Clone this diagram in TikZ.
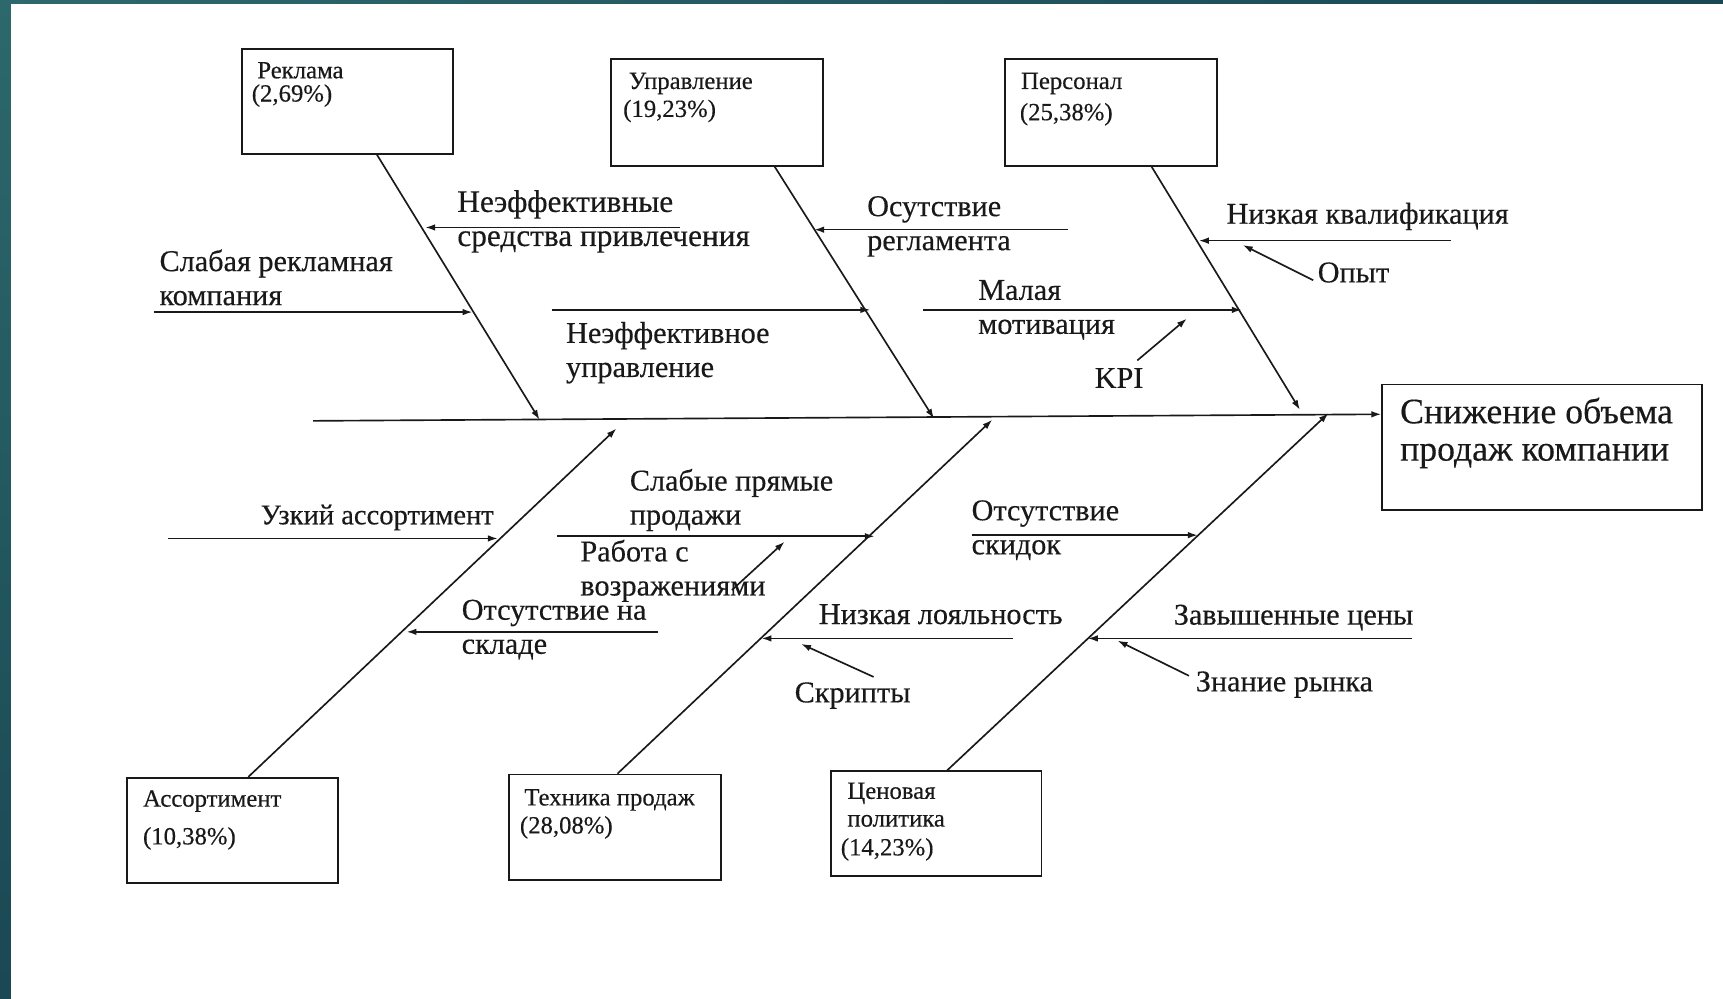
\documentclass[tikz,border=0pt]{standalone}
\usepackage{fontspec}
\setmainfont{Liberation Serif}[FakeBold=0.35]
\usetikzlibrary{arrows.meta,calc}
\definecolor{tealtop}{RGB}{44,104,108}
\definecolor{tealbot}{RGB}{26,72,84}
\definecolor{ink}{RGB}{25,25,25}
\tikzset{
  ln/.style={draw=ink,line width=1.5pt},
  arr/.style={-{Latex[length=9pt,width=6pt]}},
  boxn/.style={draw=ink,line width=1.7pt,inner sep=0pt,anchor=north west},
  lab/.style={font=\fontsize{27.5}{31}\selectfont,inner sep=0pt,anchor=west,align=left,text=ink},
  blab/.style={font=\fontsize{22.5}{25}\selectfont,inner sep=0pt,anchor=west,align=left,text=ink},
  efflab/.style={font=\fontsize{32.5}{34}\selectfont,inner sep=0pt,anchor=west,align=left,text=ink}
}
\begin{document}
\begin{tikzpicture}[x=1pt,y=-1pt]
\useasboundingbox (0,0) rectangle (1568,909);
\fill[white] (0,0) rectangle (1568,909);
\shade[top color=tealtop,bottom color=tealbot] (0,0) rectangle (10,909);
\shade[left color=tealtop,right color=tealbot] (0,0) rectangle (1568,3);

% category boxes
\node[boxn,minimum width=192pt,minimum height=95pt] (rek) at (219,44) {};
\node[boxn,minimum width=193pt,minimum height=97pt] (upr) at (555,53) {};
\node[boxn,minimum width=193pt,minimum height=97pt] (per) at (914,53) {};
\node[boxn,minimum width=192pt,minimum height=96pt] (ass) at (115,707) {};
\node[boxn,minimum width=193pt,minimum height=96pt] (teh) at (462,704) {};
\node[boxn,minimum width=192pt,minimum height=95pt] (cen) at (755,701) {};
\node[boxn,minimum width=291pt,minimum height=114pt] (eff) at (1257,349) {};

% box labels
\node[blab] (rekA) at (234,64) {Реклама};
\node[blab] (rekB) at (229,87) {(2,69\%)};
\node[blab] (uprA) at (572,76) {Управление};
\node[blab] (uprB) at (567,101) {(19,23\%)};
\node[blab] (perA) at (929,76) {Персонал};
\node[blab] (perB) at (928,104) {(25,38\%)};
\node[blab] (assA) at (130,729) {Ассортимент};
\node[blab] (assB) at (130,763) {(10,38\%)};
\node[blab] (tehA) at (477,728) {Техника продаж};
\node[blab] (tehB) at (473,753) {(28,08\%)};
\node[blab] (cenA) at (771,722) {Ценовая};
\node[blab] (cenB) at (771,747) {политика};
\node[blab] (cenC) at (765,773) {(14,23\%)};
\node[efflab] (effT) at (1274,394) {Снижение объема\\продаж компании};

% spine
\coordinate (sp0) at (285,383);
\draw[ln,arr] (sp0) -- ($(eff.north west)+(0,28)$);

% bones
\coordinate (b1) at (491,382);
\coordinate (b2) at (850,381);
\coordinate (b3) at (1183,373);
\coordinate (b4) at (561,390);
\coordinate (b5) at (903,382);
\coordinate (b6) at (1209,376);
\draw[ln,arr] ($(rek.south west)+(124,0)$) -- (b1);
\draw[ln,arr] ($(upr.south west)+(150,0)$) -- (b2);
\draw[ln,arr] ($(per.south west)+(134,0)$) -- (b3);
\draw[ln,arr] ($(ass.north west)+(111,0)$) -- (b4);
\draw[ln,arr] ($(teh.north west)+(100,0)$) -- (b5);
\draw[ln,arr] ($(cen.north west)+(107,0)$) -- (b6);

% sub-causes: Реклама
\coordinate (c1s) at (619,207); \coordinate (c1e) at (387,207);
\draw[ln,arr] (c1s) -- (c1e);
\node[lab,font=\fontsize{28.5}{31}\selectfont] (t1) at (416,201.5) {Неэффективные\\средства привлечения};
\coordinate (c2s) at (140,284); \coordinate (c2e) at (430,284);
\draw[ln,arr] (c2s) -- (c2e);
\node[lab] (t2) at (145,252.5) {Слабая рекламная\\компания};

% Управление
\coordinate (c3s) at (972,209); \coordinate (c3e) at (741,209);
\draw[ln,arr] (c3s) -- (c3e);
\node[lab] (t3) at (789,206) {Осутствие\\регламента};
\coordinate (c4s) at (502,282); \coordinate (c4e) at (792,282);
\draw[ln,arr] (c4s) -- (c4e);
\node[lab] (t4) at (515,321) {Неэффективное\\управление};

% Персонал
\coordinate (c5s) at (1320,219); \coordinate (c5e) at (1091,219);
\draw[ln,arr] (c5s) -- (c5e);
\node[lab] (t5) at (1116,197) {Низкая квалификация};
\node[lab] (t6) at (1199,248) {Опыт};
\coordinate (c6e) at (1131,223);
\draw[ln,arr] (t6.west) ++(-4,7) -- (c6e);
\coordinate (c7s) at (840,282); \coordinate (c7e) at (1130,282);
\draw[ln,arr] (c7s) -- (c7e);
\node[lab] (t7) at (890,282) {Малая\\мотивация};
\node[lab] (t8) at (996,344) {KPI};
\coordinate (c8s) at (1035,328); \coordinate (c8e) at (1080,290);
\draw[ln,arr] (c8s) -- (c8e);

% Ассортимент
\coordinate (c9s) at (153,490); \coordinate (c9e) at (453,490);
\draw[ln,arr] (c9s) -- (c9e);
\node[lab,font=\fontsize{26}{31}\selectfont] (t9) at (237,471) {Узкий ассортимент};
\coordinate (c10s) at (599,575); \coordinate (c10e) at (370,575);
\draw[ln,arr] (c10s) -- (c10e);
\node[lab] (t10) at (420,573) {Отсутствие на\\складе};

% Техника продаж
\coordinate (c11s) at (507,488); \coordinate (c11e) at (796,488);
\draw[ln,arr] (c11s) -- (c11e);
\node[lab] (t11) at (573,455) {Слабые прямые\\продажи};
\node[lab] (t12) at (528,519.5) {Работа с\\возражениями};
\coordinate (c12s) at (666,537); \coordinate (c12e) at (714,493);
\draw[ln,arr] (c12s) -- (c12e);
\coordinate (c13s) at (922,581); \coordinate (c13e) at (693,581);
\draw[ln,arr] (c13s) -- (c13e);
\node[lab] (t13) at (745,559) {Низкая лояльность};
\node[lab] (t14) at (723,633) {Скрипты};
\coordinate (c14s) at (795,616); \coordinate (c14e) at (729,586);
\draw[ln,arr] (c14s) -- (c14e);

% Ценовая политика
\coordinate (c15s) at (885,487); \coordinate (c15e) at (1090,487);
\draw[ln,arr] (c15s) -- (c15e);
\node[lab] (t15) at (884,482.5) {Отсутствие\\скидок};
\coordinate (c16s) at (1285,581); \coordinate (c16e) at (990,581);
\draw[ln,arr] (c16s) -- (c16e);
\node[lab] (t16) at (1068,562) {Завышенные цены};
\node[lab] (t17) at (1088,623) {Знание рынка};
\coordinate (c17s) at (1082,615); \coordinate (c17e) at (1017,583);
\draw[ln,arr] (c17s) -- (c17e);
\end{tikzpicture}
\end{document}
